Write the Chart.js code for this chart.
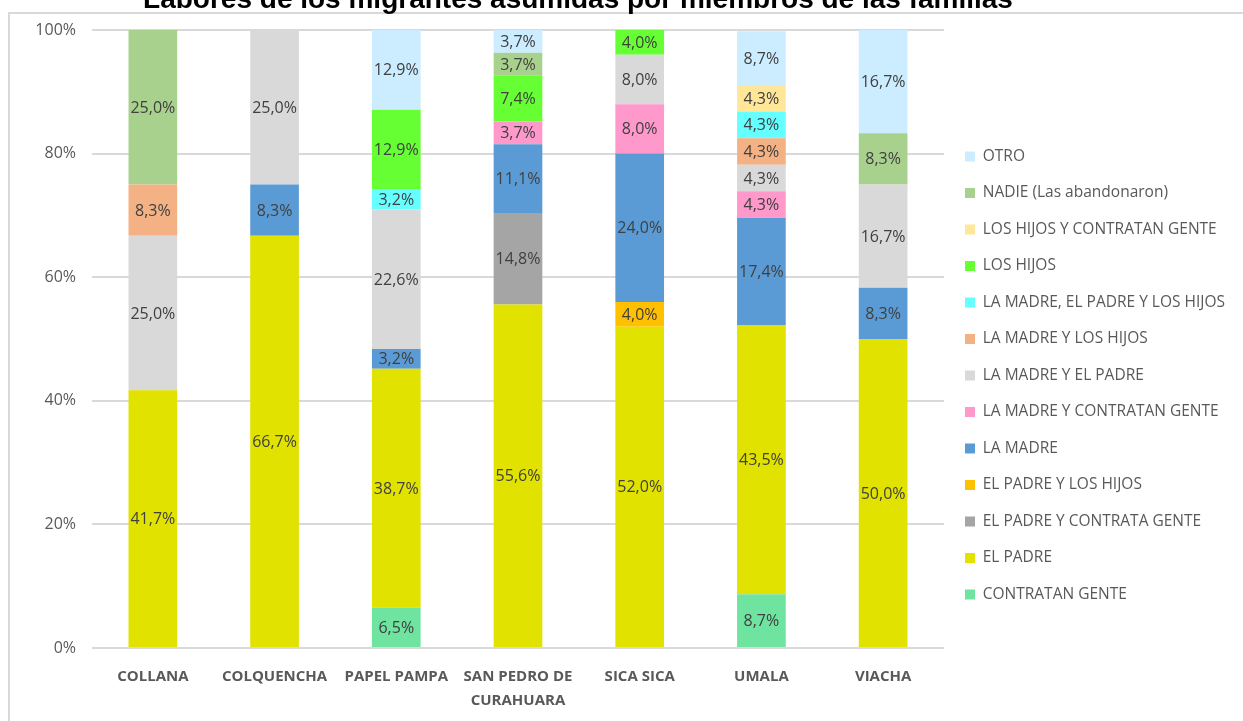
<!DOCTYPE html>
<html>
<head>
<meta charset="utf-8">
<script src="https://cdn.jsdelivr.net/npm/chart.js@4/dist/chart.umd.min.js"></script>
<style>
  html, body { margin: 0; padding: 0; background: #fff; overflow: hidden; }
  #frame { position: absolute; left: 8px; top: 12px; width: 2000px; height: 2000px; border: 2px solid #d9d9d9; }
  #wrap { position: absolute; left: 0; top: 0; width: 1243px; height: 721px; }
</style>
</head>
<body>
<div id="frame"></div>
<div id="wrap"><canvas id="chart"></canvas></div>
<script>
const FONT = '"Open Sans", sans-serif';

// Categories
const municipios = ['COLLANA', 'COLQUENCHA', 'PAPEL PAMPA', ['SAN PEDRO DE', 'CURAHUARA'], 'SICA SICA', 'UMALA', 'VIACHA'];

// Series values (%), one per answer, bottom of stack first
const contratanGente      = [0, 0, 6.5, 0, 0, 8.7, 0];
const elPadre             = [41.7, 66.7, 38.7, 55.6, 52.0, 43.5, 50.0];
const padreContrata       = [0, 0, 0, 14.8, 0, 0, 0];
const padreHijos          = [0, 0, 0, 0, 4.0, 0, 0];
const laMadre             = [0, 8.3, 3.2, 11.1, 24.0, 17.4, 8.3];
const madreContratan      = [0, 0, 0, 3.7, 8.0, 4.3, 0];
const madrePadre          = [25.0, 25.0, 22.6, 0, 8.0, 4.3, 16.7];
const madreHijos          = [8.3, 0, 0, 0, 0, 4.3, 0];
const madrePadreHijos     = [0, 0, 3.2, 0, 0, 4.3, 0];
const losHijos            = [0, 0, 12.9, 7.4, 4.0, 0, 0];
const hijosContratan      = [0, 0, 0, 0, 0, 4.3, 0];
const nadie               = [25.0, 0, 0, 3.7, 0, 0, 8.3];
const otro                = [0, 0, 12.9, 3.7, 0, 8.7, 16.7];

// Y axis ticks
const yTicks = [0, 20, 40, 60, 80, 100];

const series = [
  { label: 'CONTRATAN GENTE', data: contratanGente, color: '#6fe3a0' },
  { label: 'EL PADRE', data: elPadre, color: '#e2e200' },
  { label: 'EL PADRE Y CONTRATA GENTE', data: padreContrata, color: '#a5a5a5' },
  { label: 'EL PADRE Y LOS HIJOS', data: padreHijos, color: '#ffc000' },
  { label: 'LA MADRE', data: laMadre, color: '#5b9bd5' },
  { label: 'LA MADRE Y CONTRATAN GENTE', data: madreContratan, color: '#ff99cc' },
  { label: 'LA MADRE Y EL PADRE', data: madrePadre, color: '#d9d9d9' },
  { label: 'LA MADRE Y LOS HIJOS', data: madreHijos, color: '#f4b183' },
  { label: 'LA MADRE, EL PADRE Y LOS HIJOS', data: madrePadreHijos, color: '#66ffff' },
  { label: 'LOS HIJOS', data: losHijos, color: '#66ff33' },
  { label: 'LOS HIJOS Y CONTRATAN GENTE', data: hijosContratan, color: '#ffe699' },
  { label: 'NADIE (Las abandonaron)', data: nadie, color: '#a9d18e' },
  { label: 'OTRO', data: otro, color: '#ccecff' }
];

function pct(v) {
  return v.toFixed(1).replace('.', ',') + '%';
}

// Value labels in the middle of every segment
const segmentLabels = {
  id: 'segmentLabels',
  afterDatasetsDraw(chart) {
    const ctx = chart.ctx;
    ctx.save();
    ctx.font = '16px ' + FONT;
    ctx.fillStyle = '#404040';
    ctx.textAlign = 'center';
    ctx.textBaseline = 'middle';
    chart.data.datasets.forEach((ds, i) => {
      const meta = chart.getDatasetMeta(i);
      meta.data.forEach((bar, j) => {
        const v = ds.data[j];
        if (!v) return;
        const p = bar.getProps(['x', 'y', 'base'], true);
        ctx.fillText(pct(v), p.x, (p.y + p.base) / 2 + 1);
      });
    });
    ctx.restore();
  }
};

// Title, partly cut by the top edge like in the original
const topTitle = {
  id: 'topTitle',
  afterDraw(chart) {
    const ctx = chart.ctx;
    ctx.save();
    ctx.font = 'bold 28px "Liberation Sans", sans-serif';
    ctx.fillStyle = '#000';
    ctx.textAlign = 'center';
    ctx.textBaseline = 'alphabetic';
    ctx.fillText('Labores de los migrantes asumidas por miembros de las familias', 578, 8);
    ctx.restore();
  }
};

new Chart(document.getElementById('chart'), {
  type: 'bar',
  data: {
    labels: municipios,
    datasets: series.map(s => ({
      label: s.label,
      data: s.data,
      backgroundColor: s.color,
      borderWidth: 0,
      barPercentage: 0.4,
      categoryPercentage: 1
    }))
  },
  options: {
    responsive: true,
    maintainAspectRatio: false,
    animation: false,
    layout: {
      padding: { top: 30, bottom: 0, left: 0, right: 8 }
    },
    plugins: {
      title: { display: false },
      tooltip: { enabled: false },
      legend: {
        position: 'right',
        reverse: true,
        labels: {
          boxWidth: 10,
          boxHeight: 10,
          padding: 21,
          color: '#595959',
          font: { family: FONT, size: 15.5 }
        }
      }
    },
    scales: {
      x: {
        stacked: true,
        afterFit: s => { s.height = 73; },
        grid: { display: false, drawTicks: false },
        border: { display: false },
        ticks: {
          padding: 17,
          color: '#595959',
          font: { family: FONT, size: 15, weight: 'bold', lineHeight: 1.6 }
        }
      },
      y: {
        stacked: true,
        min: 0,
        max: 100,
        afterFit: s => { s.width = 92; },
        afterBuildTicks: s => { s.ticks = yTicks.map(v => ({ value: v })); },
        grid: { color: '#d9d9d9', lineWidth: 2, drawTicks: false },
        border: { display: false },
        ticks: {
          padding: 16,
          color: '#595959',
          font: { family: FONT, size: 16 },
          callback: v => v + '%'
        }
      }
    }
  },
  plugins: [segmentLabels, topTitle]
});
</script>
</body>
</html>
